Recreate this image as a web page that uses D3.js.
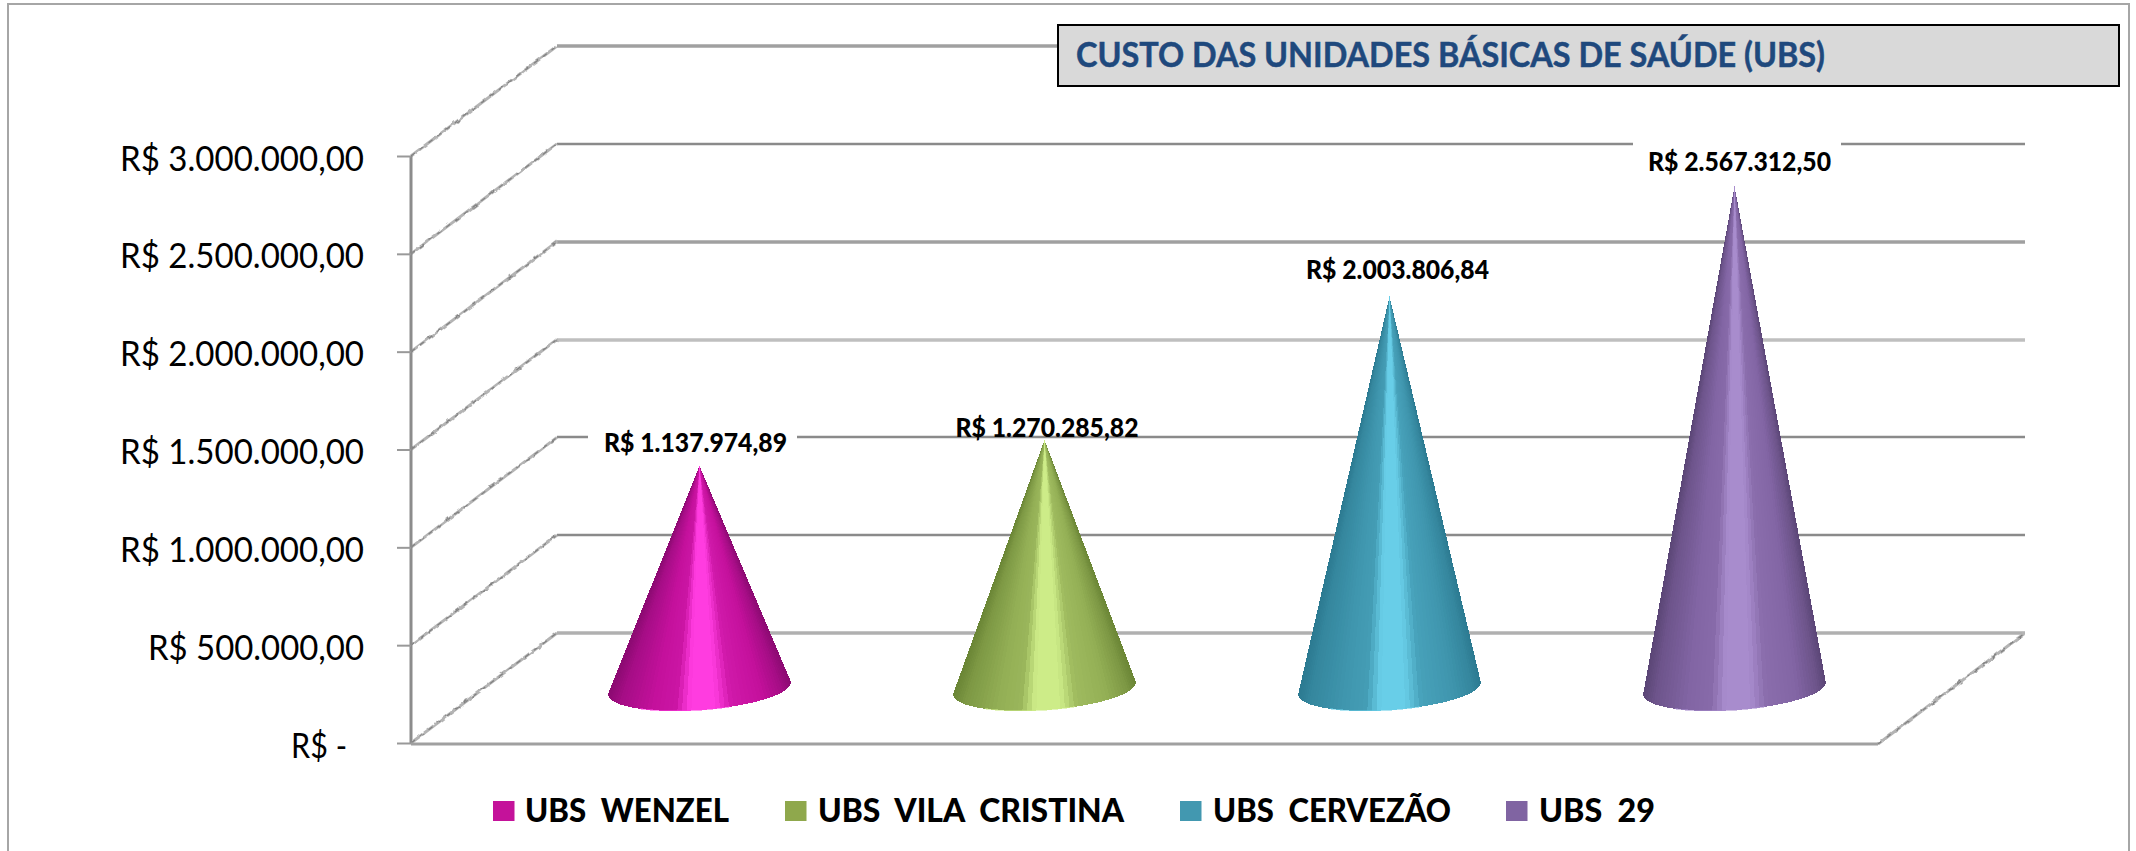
<!DOCTYPE html>
<html lang="pt-BR">
<head>
<meta charset="utf-8">
<title>Custo das Unidades Básicas de Saúde</title>
<script src="https://cdn.jsdelivr.net/npm/d3@7"></script>
<style>
html,body{margin:0;padding:0;background:#fff;overflow:hidden}
svg{display:block;font-family:Lato,"Open Sans",sans-serif}
text{white-space:pre}
</style>
</head>
<body>
<svg id="chart" width="2136" height="851">
  <defs>
    <filter id="rough" filterUnits="userSpaceOnUse" x="380" y="20" width="1700" height="750">
      <feTurbulence type="fractalNoise" baseFrequency="0.16" numOctaves="1" seed="4" result="n"/>
      <feDisplacementMap in="SourceGraphic" in2="n" scale="3.5" xChannelSelector="R" yChannelSelector="G"/>
    </filter>
  </defs>
</svg>
<script>
// ---- data ----
const categories = ["UBS  WENZEL", "UBS  VILA  CRISTINA", "UBS  CERVEZÃO", "UBS  29"];
const values = [1137974.89, 1270285.82, 2003806.84, 2567312.50];
const tickValues = [0, 500000, 1000000, 1500000, 2000000, 2500000, 3000000];
const titleText = "CUSTO DAS UNIDADES BÁSICAS DE SAÚDE (UBS)";

// ---- colours ----
const swatchColors = ["#c4129a", "#8fa84c", "#4298b0", "#8064a2"];
const darkColors = ["#8c0a72", "#6b8636", "#2c7a91", "#5b4676"];
const midColors = ["#c4109c", "#93af55", "#3f96ae", "#8265a4"];
const lightColors = ["#ff3ce0", "#cdec88", "#68cee8", "#a88ccd"];
const gridColors = ["#b0b0b0", "#8a8a8a", "#8a8a8a", "#bfbfbf", "#a0a0a0", "#8a8a8a", "#a0a0a0"];
const gridWidths = [3.5, 2.5, 2.5, 3.5, 3.5, 2.5, 3.5];

// ---- layout ----
const front = {left: 411, right: 1878, y0: 743, y3: 156};
const depth = {dx: 146, dy: -110};
const coneDepth = {dy: -54.5};
const coneRx = 91.5, coneRy = 21.5, coneTilt = -4 * Math.PI / 180;
const labelShiftX = [-4, 2.5, 8, 5];
const labelBaseline = [452, 437, 279, 171];
const labelBackdrop = [[588, 797], null, [1292, 1500], [1633, 1841]];
const legendSwatchX = [493, 785, 1180, 1506];
const legendTextX = [525, 818, 1213, 1539];
const legendTextW = [204, 306, 238, 116];

const svg = d3.select("#chart");
const y = d3.scaleLinear().domain([0, 3000000]).range([front.y0, front.y3]);
const x = d3.scaleBand().domain(categories).range([527, 1907]);
const cx = c => x(c) + x.bandwidth() / 2;

const brl = d3.formatLocale({decimal: ",", thousands: ".", grouping: [3], currency: ["R$ ", ""]}).format("$,.2f");

// chart frame (its bottom edge lies below the picture)
svg.append("rect").attr("x", 8).attr("y", 4).attr("width", 2121).attr("height", 900)
  .attr("fill", "#fff").attr("stroke", "#a6a6a6").attr("stroke-width", 2);

// back-wall gridlines
svg.append("g").selectAll("line").data(tickValues).join("line")
  .attr("x1", front.left + depth.dx).attr("x2", front.right + depth.dx + 1)
  .attr("y1", d => Math.round(y(d) + depth.dy)).attr("y2", d => Math.round(y(d) + depth.dy))
  .attr("stroke", (d, i) => gridColors[i]).attr("stroke-width", (d, i) => gridWidths[i]);

// side-wall depth lines, a light line with a darker broken core, roughened like the source
const depthG = svg.append("g").attr("filter", "url(#rough)");
[["#b4b4b4", 3, null], ["#808080", 1.2, "5 6"]].forEach(([col, w, dash]) => {
  depthG.selectAll(null).data(tickValues).join("line")
    .attr("x1", front.left).attr("y1", d => y(d))
    .attr("x2", front.left + depth.dx).attr("y2", d => y(d) + depth.dy)
    .attr("stroke", col).attr("stroke-width", w).attr("stroke-dasharray", dash);
  depthG.append("line")
    .attr("x1", front.right).attr("y1", y(0) + 1)
    .attr("x2", front.right + depth.dx + 1).attr("y2", y(0) + depth.dy)
    .attr("stroke", col).attr("stroke-width", w).attr("stroke-dasharray", dash);
});

// value axis
const axis = d3.axisLeft(y).tickValues(tickValues).tickSize(14).tickPadding(33)
  .tickFormat(d => d === 0 ? "R$ -" : brl(d));
const axisG = svg.append("g").attr("transform", `translate(${front.left},0)`).call(axis);
axisG.select(".domain").attr("stroke", "#8c8c8c").attr("stroke-width", 3)
  .attr("d", `M0,${y(3000000)}V${y(0) + 1}`);
axisG.selectAll(".tick line").attr("stroke", "#999").attr("stroke-width", 2);
axisG.selectAll(".tick text")
  .attr("font-family", "Lato").attr("font-size", 35).attr("fill", "#000").attr("dy", "14px")
  .attr("lengthAdjust", "spacingAndGlyphs")
  .attr("textLength", d => d === 0 ? 56 : d === 500000 ? 216 : 244)
  .attr("x", d => d === 0 ? -64 : -47);

// floor front edge
svg.append("line").attr("x1", front.left).attr("x2", front.right)
  .attr("y1", y(0) + 1).attr("y2", y(0) + 1)
  .attr("stroke", "#a0a0a0").attr("stroke-width", 3);

// cones, each a fan of slices from the apex to the base ellipse
const shade = (dark, mid, light) => {
  const a = d3.interpolateRgb(dark, mid), b = d3.interpolateRgb(mid, light);
  const stops = [[0, a(0)], [0.06, a(0.45)], [0.24, a(1)], [0.36, b(0.12)], [0.44, b(1)],
                 [0.58, b(1)], [0.67, b(0.2)], [0.84, a(1)], [0.95, a(0.45)], [1, a(0)]];
  return s => {
    let i = 1;
    while (i < stops.length - 1 && stops[i][0] < s) i++;
    const [s0, c0] = stops[i - 1], [s1, c1] = stops[i];
    return d3.interpolateRgb(c0, c1)((s - s0) / (s1 - s0));
  };
};
const conesG = svg.append("g").attr("shape-rendering", "crispEdges");
categories.forEach((c, i) => {
  const g = conesG.append("g");
  const ax = cx(c), ay = y(values[i]) + coneDepth.dy;
  const by = y(0) + coneDepth.dy;
  const colorAt = shade(darkColors[i], midColors[i], lightColors[i]);
  const rim = t => {
    const ex = coneRx * Math.cos(t), ey = coneRy * Math.sin(t);
    return [ax + ex * Math.cos(coneTilt) - ey * Math.sin(coneTilt),
            by + ex * Math.sin(coneTilt) + ey * Math.cos(coneTilt)];
  };
  const n = 60, dt = Math.PI / n;
  // silhouette wedges just behind the rim's side points, then the visible front
  const wedges = d3.range(-0.5, 0, dt).concat(d3.range(Math.PI, Math.PI + 0.5, dt));
  const frontSteps = d3.range(0, Math.PI, dt);
  [wedges, frontSteps].forEach(steps => {
    g.selectAll(null).data(steps).join("path")
      .attr("d", t => `M${ax},${ay}L${rim(t)}L${rim(t + dt)}Z`)
      .attr("fill", t => colorAt((1 + Math.cos(t + dt / 2)) / 2));
  });
  // pale rim along the bottom of the base
  g.append("path")
    .attr("d", d3.line()(d3.range(1.25, 2.35, 0.05).map(t => rim(t))))
    .attr("fill", "none").attr("stroke", lightColors[i]).attr("stroke-width", 1.2).attr("opacity", 0.55);
});

// data labels
const labelG = svg.append("g");
categories.forEach((c, i) => {
  if (labelBackdrop[i]) {
    labelG.append("rect").attr("x", labelBackdrop[i][0]).attr("y", labelBaseline[i] - 30)
      .attr("width", labelBackdrop[i][1] - labelBackdrop[i][0]).attr("height", 36).attr("fill", "#fff");
  }
  labelG.append("text")
    .attr("x", cx(c) + labelShiftX[i]).attr("y", labelBaseline[i])
    .attr("text-anchor", "middle").attr("font-family", "Lato").attr("font-weight", 900)
    .attr("font-size", 27).attr("fill", "#000")
    .attr("textLength", 183).attr("lengthAdjust", "spacingAndGlyphs")
    .text(brl(values[i]));
});

// title box
svg.append("rect").attr("x", 1058).attr("y", 25).attr("width", 1061).attr("height", 61)
  .attr("fill", "#d9d9d9").attr("stroke", "#000").attr("stroke-width", 2);
svg.append("text").attr("x", 1076).attr("y", 67)
  .attr("font-family", "Lato").attr("font-weight", 700).attr("font-size", 35).attr("fill", "#1f497d")
  .attr("stroke", "#1f497d").attr("stroke-width", 0.5)
  .attr("textLength", 749).attr("lengthAdjust", "spacingAndGlyphs")
  .text(titleText);

// legend
const legend = svg.append("g");
legend.selectAll("rect").data(categories).join("rect")
  .attr("x", (d, i) => legendSwatchX[i]).attr("y", 801)
  .attr("width", 21.5).attr("height", 20)
  .attr("fill", (d, i) => swatchColors[i]);
legend.selectAll("text").data(categories).join("text")
  .attr("x", (d, i) => legendTextX[i]).attr("y", 822)
  .attr("font-family", "Lato").attr("font-weight", 900).attr("font-size", 33).attr("fill", "#000")
  .attr("textLength", (d, i) => legendTextW[i]).attr("lengthAdjust", "spacingAndGlyphs")
  .text(d => d);
</script>
</body>
</html>
